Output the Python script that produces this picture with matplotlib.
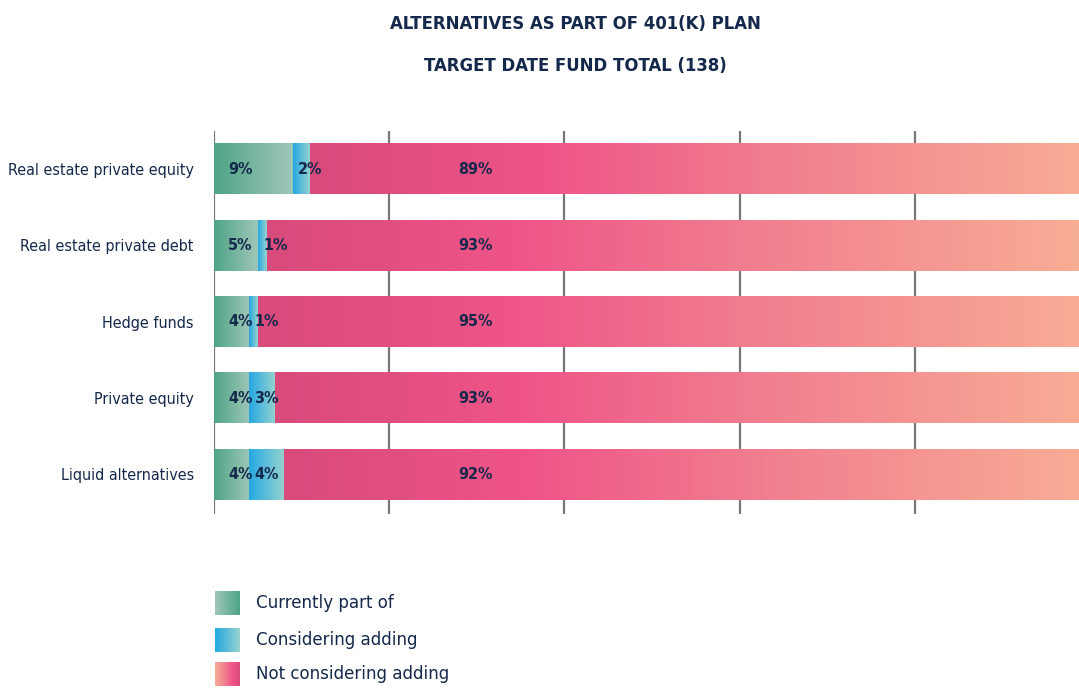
import numpy as np
import matplotlib
matplotlib.use('Agg')
from matplotlib import pyplot as plt
from matplotlib.colors import LinearSegmentedColormap

categories = ['Real estate private equity', 'Real estate private debt', 'Hedge funds',
              'Private equity', 'Liquid alternatives']
current = [9, 5, 4, 4, 4]
considering = [2, 1, 1, 3, 4]
not_considering = [89, 93, 95, 93, 92]
series_names = ['Currently part of', 'Considering adding', 'Not considering adding']

navy = '#14284b'
plt.rcParams['font.family'] = ['DejaVu Sans']
plt.rcParams['font.stretch'] = 'condensed'

green_cm = LinearSegmentedColormap.from_list('g', ['#4ea487', '#9fc7b7'])
blue_cm = LinearSegmentedColormap.from_list('b', ['#25a8e2', '#97d3cf'])
pink_cm = LinearSegmentedColormap.from_list(
    'p', [(0, '#d94a7d'), (0.3, '#ef5488'), (0.6, '#f17f8f'), (1, '#f8ad95')])

fig = plt.figure(figsize=(10.79, 6.88), dpi=100)
ax = fig.add_axes([214 / 1079, 1 - 514 / 688, 876 / 1079, 383 / 688])

grad = np.linspace(0, 1, 256).reshape(1, -1)
bar_h = 0.66


def grad_bar(y, left, width, cmap):
    ax.imshow(grad, extent=[left, left + width, y + bar_h / 2, y - bar_h / 2],
              aspect='auto', cmap=cmap, zorder=2, interpolation='bicubic')


for i in range(len(categories)):
    c, k, n = current[i], considering[i], not_considering[i]
    grad_bar(i, 0, c, green_cm)
    grad_bar(i, c, k, blue_cm)
    grad_bar(i, c + k, n, pink_cm)
    lab = dict(va='center', ha='center', color=navy, fontsize=11.5, fontweight='bold', zorder=3)
    ax.text(3.0, i, f'{c}%', **lab)
    ax.text(c + 2.0, i, f'{k}%', **lab)
    ax.text(29.8, i, f'{n}%', **lab)

for x in [0, 20, 40, 60, 80]:
    ax.axvline(x, color='#777777', lw=1.6, zorder=1)

ax.set_xlim(0, 100)
ax.set_ylim(len(categories) - 0.48, -0.5)
ax.set_yticks(range(len(categories)))
ax.set_yticklabels(categories, fontsize=11.5, color=navy)
ax.tick_params(axis='y', length=0, pad=14.5)
ax.set_xticks([])
for s in ax.spines.values():
    s.set_visible(False)

fig.text(0.533, 1 - 24 / 688, 'ALTERNATIVES AS PART OF 401(K) PLAN', ha='center', va='center',
         fontsize=13.2, fontweight='bold', color=navy)
fig.text(0.533, 1 - 66 / 688, 'TARGET DATE FUND TOTAL (138)', ha='center', va='center',
         fontsize=13.2, fontweight='bold', color=navy)

# legend
leg_cmaps = [green_cm.reversed(), blue_cm, pink_cm.reversed()]
leg_y = [603, 640, 674]
for name, cm, yc in zip(series_names, leg_cmaps, leg_y):
    sw = fig.add_axes([215 / 1079, 1 - (yc + 12) / 688, 25 / 1079, 24 / 688])
    sw.imshow(grad, aspect='auto', cmap=cm)
    sw.axis('off')
    fig.text(256 / 1079, 1 - yc / 688, name, ha='left', va='center', fontsize=13.3, color=navy)

fig.savefig('out.png', dpi=100)
